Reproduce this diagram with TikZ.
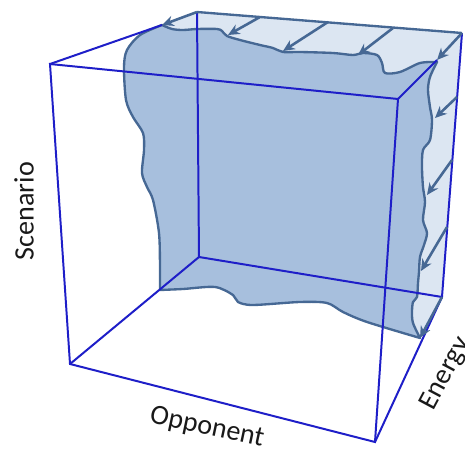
\documentclass[tikz,border=0pt]{standalone}
\usepackage{fontspec}
\setmainfont{Carlito}
\usepackage{xcolor}
\usetikzlibrary{arrows.meta}

\definecolor{cubeblue}{RGB}{30,30,200}
\definecolor{rimblue}{RGB}{70,104,148}
\definecolor{surfblue}{RGB}{167,191,221}
\definecolor{paleblue}{RGB}{220,230,242}

\tikzset{
  cubeedge/.style={cubeblue, line width=1.7pt},
  rim/.style={rimblue, line width=2pt, line join=round},
  push/.style={rimblue, line width=2.2pt, -{Stealth[length=10pt,width=9pt]}},
  axislabel/.style={font=\fontsize{24}{28}\selectfont, text=black!90},
}

\begin{document}
\begin{tikzpicture}[x=0.03cm, y=-0.03cm]
\useasboundingbox (0,0) rectangle (465,453);
% cube corners
\coordinate (ftl) at (50,64);
\coordinate (fbl) at (70,364);
\coordinate (fbr) at (375,442);
\coordinate (ftr) at (398,99);
\coordinate (btl) at (197,12);
\coordinate (bbl) at (199,257);
\coordinate (bbr) at (442,297);
\coordinate (btr) at (462,33);
% corners of the surface
\coordinate (stl) at (162,25);
\coordinate (sbl) at (160,290);
\coordinate (sbr) at (420,338);
\coordinate (str) at (437,60);

% pale faces behind the surface
\fill[paleblue] (stl) -- (btl) -- (btr) -- (bbr) -- (sbr) -- (300,200) -- cycle;

% the surface
\filldraw[rim, fill=surfblue]
  plot[smooth, tension=0.5] coordinates {(162,25) (140,35) (127,50) (124,67) (126,100) (133,117) (143,133) (144,150) (142,173) (147,187) (153,200) (159,233) (160,267) (160,290)}
  -- plot[smooth, tension=0.5] coordinates {(160,290) (183,289) (215,287) (233,295) (238,302) (253,305) (300,302) (327,303) (343,312) (367,322) (420,338)}
  -- plot[smooth, tension=0.5] coordinates {(420,338) (413,323) (412,312) (413,302) (417,297) (418,283) (419,272) (420,257) (424,245) (427,233) (423,220) (425,202) (423,187) (422,167) (423,150) (430,140) (432,120) (430,107) (428,90) (430,77) (437,62)}
  -- plot[smooth, tension=0.5] coordinates {(437,62) (420,63) (400,72) (385,73) (382,63) (377,55) (363,53) (353,55) (333,53) (300,52) (283,52) (273,48) (260,45) (240,40) (227,36) (222,31) (217,29) (197,29) (183,30) (172,29) (162,25)}
  -- cycle;

% cube edges
\draw[cubeedge] (ftl) -- (fbl) -- (fbr) -- (ftr) -- cycle;
\draw[cubeedge] (ftl) -- (stl);
\draw[cubeedge] (fbl) -- (bbl);
\draw[cubeedge] (fbr) -- (bbr);
\draw[cubeedge] (ftr) -- (str);
\draw[cubeedge] (btl) -- (bbl) -- (bbr) -- (btr);
\draw[rim] (btl) -- (btr);

% pushing arrows
\draw[push] (btl) -- (stl);
\foreach \from/\to in {{(260,17)}/{(228,35)}, {(328,22)}/{(283,51)}, {(393,28)}/{(358,55)},
                      {(457,97)}/{(435,118)}, {(452,160)}/{(427,195)}, {(447,227)}/{(421,271)}}
  \draw[push] \from -- \to;
\draw[push] (btr) -- (str);
\draw[push] (bbr) -- (sbr);

% labels
\node[axislabel, rotate=90] (scenario) at (24,211) {Scenario};
\node[axislabel, rotate=-12] (opponent) at (207,428) {Opponent};
\node[axislabel, rotate=62] (energy) at (446,374) {Energy};
\end{tikzpicture}
\end{document}
